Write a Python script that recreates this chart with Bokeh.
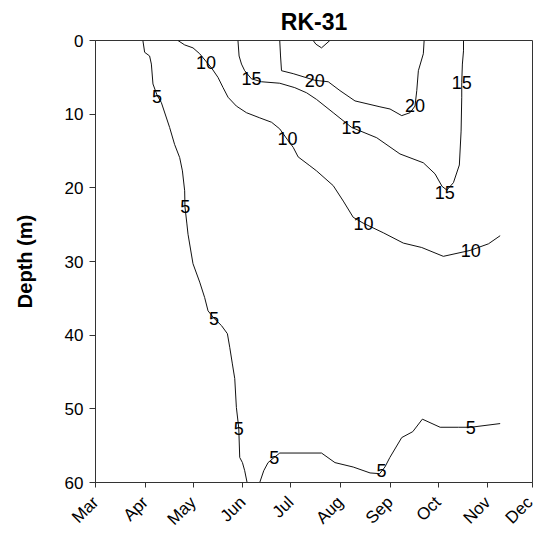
from bokeh.plotting import figure
from bokeh.models import Range1d, FixedTicker, ColumnDataSource
from bokeh.core.properties import value
from bokeh.embed import file_html
from bokeh.resources import INLINE
import math

# Axis ticks: days counted from 1 March, month names as labels
month_names = ["Mar", "Apr", "May", "Jun", "Jul", "Aug", "Sep", "Oct", "Nov", "Dec"]
month_days = [0, 31, 61, 92, 122, 153, 184, 214, 245, 273]
depth_ticks = [0, 10, 20, 30, 40, 50, 60]

# Isotherms (deg C): day since 1 March vs depth (m)
iso5_day = [29.6, 30.7, 33.8, 34.9, 35.9, 38.6, 41.1, 46.3, 49.4, 52.6, 54.3, 55.7, 55.9,
            57.1, 57.8, 60.9, 65.1, 68.2, 70.3, 74.0, 78.7, 82.4, 83.9, 85.5, 87.0, 88.0,
            89.5, 90.1, 91.8, 93.2, 94.7]
iso5_depth = [0.0, 1.6, 2.1, 3.2, 5.9, 7.5, 8.4, 11.8, 14.1, 15.9, 17.7, 20.4, 22.6,
              24.9, 26.3, 30.3, 32.8, 34.9, 36.7, 37.7, 38.7, 39.8, 41.7, 43.9, 45.9, 49.8,
              52.6, 56.6, 57.3, 58.4, 60.0]

iso5_deep_day = [102.6, 105.1, 107.8, 111.6, 115.1, 141.2, 149.6, 161.0, 171.5, 177.5,
                 180.8, 183.9, 191.3, 198.2, 204.2, 215.3, 226.7, 234.5, 252.8]
iso5_deep_depth = [60.0, 58.4, 57.3, 56.6, 56.0, 56.0, 57.3, 57.9, 58.7, 58.8,
                   57.9, 56.6, 53.9, 53.1, 51.4, 52.5, 52.5, 52.5, 52.0]

iso10_day = [51.5, 55.7, 60.9, 65.1, 69.3, 72.4, 76.5, 79.7, 82.8, 88.0, 94.3, 102.6, 110.0,
             115.1, 119.7, 123.5, 126.6, 133.9, 138.1, 148.5, 154.8, 161.0, 167.3, 179.8,
             192.3, 203.8, 217.3, 234.0, 245.5, 252.8]
iso10_depth = [0.0, 0.6, 1.0, 1.8, 2.9, 3.7, 5.0, 6.4, 7.7, 8.9, 9.8, 10.5, 11.1,
               12.0, 13.4, 14.5, 15.8, 17.0, 17.7, 19.7, 21.8, 24.0, 24.8, 26.1,
               27.5, 28.1, 29.3, 28.5, 27.6, 26.5]

iso15_day = [89.0, 89.7, 91.2, 93.2, 97.4, 103.7, 115.1, 124.5, 131.9, 138.1, 148.5, 160.0,
             175.7, 190.2, 204.8, 212.1, 216.5, 219.5, 223.6, 227.3, 228.4, 228.8, 228.8,
             229.2, 229.9, 229.9]
iso15_depth = [0.0, 2.1, 3.2, 4.1, 5.2, 5.6, 5.8, 6.4, 7.1, 8.0, 9.8, 11.8,
               13.2, 15.4, 16.6, 18.1, 19.8, 20.3, 19.3, 16.9, 12.3, 7.7, 5.7,
               3.2, 1.4, 0.0]

iso20_day = [115.1, 115.6, 116.2, 123.5, 137.0, 145.4, 152.7, 162.1, 177.7, 184.0, 191.3,
             196.5, 199.6, 200.7, 201.7, 204.8, 205.3]
iso20_depth = [0.0, 2.1, 4.1, 4.5, 5.4, 5.6, 6.8, 8.2, 9.0, 9.3, 10.2,
               9.8, 8.9, 6.8, 4.1, 1.8, 0.0]

iso20_cap_day = [136.0, 137.7, 141.2, 146.4]
iso20_cap_depth = [0.0, 0.5, 1.0, 0.0]

# Contour labels
label_text = ["5", "5", "5", "5", "5", "5", "5",
              "10", "10", "10", "10",
              "15", "15", "15", "15",
              "20", "20"]
label_day = [38.5, 56.0, 74.0, 89.5, 111.7, 178.7, 234.5,
             69.1, 120.0, 167.4, 234.4,
             97.4, 160.0, 218.2, 228.8,
             137.0, 199.6]
label_depth = [7.6, 22.6, 37.7, 52.7, 56.6, 58.4, 52.6,
               3.0, 13.3, 24.8, 28.5,
               5.2, 11.8, 20.6, 5.7,
               5.4, 8.8]

FONT = "Liberation Sans"

p = figure(width=536, height=538,
           x_range=Range1d(0, 273), y_range=Range1d(60, 0),
           output_backend="svg", toolbar_location=None,
           min_border_left=95, min_border_right=4,
           min_border_top=40, min_border_bottom=56)

p.title.text = "RK-31"
p.title.align = "center"
p.title.text_font = FONT
p.title.text_font_size = "23px"
p.title.text_font_style = "bold"
p.title.text_color = "#000000"
p.title.standoff = 11

p.xgrid.visible = False
p.ygrid.visible = False
p.outline_line_color = "#333333"
p.outline_line_width = 1

p.xaxis.ticker = FixedTicker(ticks=month_days)
p.xaxis.major_label_overrides = {d: m for d, m in zip(month_days, month_names)}
p.xaxis.major_label_orientation = math.pi / 4
p.yaxis.ticker = FixedTicker(ticks=depth_ticks)
p.yaxis.axis_label = "Depth (m)"

for ax in (p.xaxis[0], p.yaxis[0]):
    ax.axis_line_color = "#333333"
    ax.major_tick_line_color = "#333333"
    ax.minor_tick_line_color = None
    ax.major_tick_in = 0
    ax.major_tick_out = 6
    ax.major_label_text_font = FONT
    ax.major_label_text_font_size = "17px"
    ax.major_label_text_color = "#000000"
    ax.major_label_standoff = 6

p.xaxis.major_tick_out = 5
p.xaxis.major_label_standoff = 12

p.yaxis.axis_label_text_font = FONT
p.yaxis.axis_label_text_font_size = "20px"
p.yaxis.axis_label_text_font_style = "bold"
p.yaxis.axis_label_text_color = "#000000"
p.yaxis.axis_label_standoff = 26

for xs, ys in [(iso5_day, iso5_depth), (iso5_deep_day, iso5_deep_depth),
               (iso10_day, iso10_depth), (iso15_day, iso15_depth),
               (iso20_day, iso20_depth), (iso20_cap_day, iso20_cap_depth)]:
    p.line(xs, ys, line_color="#111111", line_width=1)

labels = ColumnDataSource(data=dict(x=label_day, y=label_depth, t=label_text))
p.text(x="x", y="y", text="t", source=labels,
       text_font=value(FONT), text_font_size="18px", text_color="#000000",
       text_align="center", text_baseline="middle")

open("out.html", "w").write(file_html(p, INLINE))
